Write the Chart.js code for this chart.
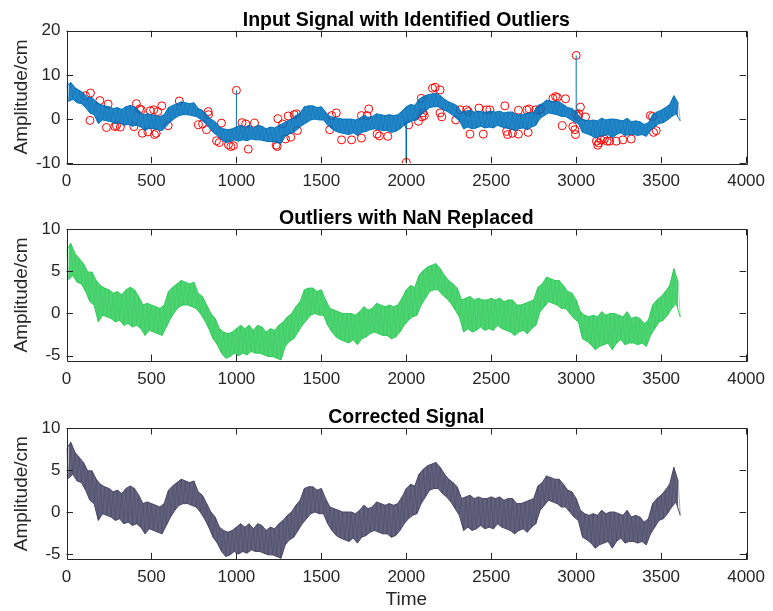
<!DOCTYPE html>
<html>
<head>
<meta charset="utf-8">
<title>Outlier removal</title>
<script src="https://cdn.jsdelivr.net/npm/chart.js@4.4.1/dist/chart.umd.min.js"></script>
<style>
  body { margin: 0; background: #fff; }
  #figure { position: relative; width: 773px; height: 611px; background: #fff; }
  #figure canvas { position: absolute; left: 0; }
</style>
</head>
<body>
<div id="figure">
  <canvas id="inputChart" width="773" height="200" style="top:0px"></canvas>
  <canvas id="nanChart" width="773" height="197" style="top:200px"></canvas>
  <canvas id="correctedChart" width="773" height="214" style="top:397px"></canvas>
</div>
<script>
// Signal envelope every 25 samples: peak (high) and trough (low) of the noisy trace
const sampleStep = 25;
const signalHigh = [
  7.5, 8.3, 7.1, 6.5, 5.9, 4.9, 4.9, 3.9,
  3.3, 3.0, 2.8, 2.4, 2.6, 2.2, 2.8, 3.1,
  2.8, 2.0, 1.0, 1.2, 1.0, 0.8, 0.6, 1.0,
  2.6, 3.1, 3.5, 3.9, 3.7, 3.5, 3.7, 2.4,
  2.0, 1.0, 0.0, -0.6, -1.8, -2.2, -2.4, -2.2,
  -1.8, -1.4, -1.8, -1.4, -2.0, -1.4, -1.6, -2.2,
  -1.8, -2.0, -1.4, -1.0, -0.4, 0.0, 0.8, 1.4,
  2.8, 3.0, 3.0, 2.6, 2.8, 1.6, 0.6, 0.4,
  0.2, 0.0, 0.0, 0.0, -0.2, 0.2, 0.8, 0.4,
  0.6, 1.2, 1.0, 0.8, 1.0, 0.8, 1.0, 1.8,
  2.8, 3.3, 3.1, 4.5, 5.1, 5.5, 5.7, 5.9,
  5.3, 4.5, 3.9, 3.5, 3.0, 1.6, 1.8, 2.0,
  1.6, 1.8, 1.6, 1.6, 1.8, 1.6, 1.8, 1.4,
  1.6, 1.6, 1.0, 1.0, 1.2, 1.4, 1.6, 3.1,
  3.5, 4.3, 4.1, 3.9, 3.9, 3.3, 2.6, 2.4,
  1.6, 0.2, -0.2, -0.4, -0.2, -0.4, 0.2, -0.2,
  0.0, 0.0, -0.2, -0.4, 0.2, -0.6, -0.4, -0.6,
  -1.2, -0.8, 1.0, 1.6, 2.0, 2.6, 3.3, 5.3,
  3.7
];
const signalLow = [
  4.0, 4.5, 3.7, 3.5, 2.6, 1.4, 1.0, -1.0,
  -0.2, -0.4, -0.6, -1.0, -0.8, -1.4, -1.2, -1.6,
  -1.4, -1.8, -2.6, -2.0, -2.2, -2.4, -2.6, -1.6,
  -0.6, 0.2, 0.8, 1.0, 1.0, 0.8, 0.6, 0.0,
  -0.8, -1.8, -3.0, -3.7, -4.7, -5.3, -5.1, -4.7,
  -5.0, -4.7, -4.9, -4.5, -4.7, -4.7, -4.9, -5.1,
  -5.1, -5.3, -5.5, -3.9, -3.3, -3.0, -2.2, -1.4,
  -0.8, -0.2, 0.0, -0.2, -0.2, -1.4, -2.2, -2.8,
  -3.1, -3.3, -3.5, -3.1, -3.7, -3.0, -2.8, -2.4,
  -2.2, -2.4, -2.6, -2.6, -3.0, -2.8, -2.2, -1.4,
  -0.8, -0.4, -0.2, 1.0, 1.8, 2.6, 2.8, 2.8,
  2.2, 1.8, 1.2, 0.4, -0.4, -2.2, -1.8, -2.2,
  -2.0, -1.6, -2.0, -1.8, -2.0, -1.4, -1.8, -2.0,
  -2.2, -2.6, -2.2, -2.0, -2.4, -1.8, -1.4, 0.2,
  0.8, 1.4, 1.2, 1.0, 0.6, 0.6, 0.0, -0.6,
  -1.0, -3.0, -3.3, -3.7, -4.3, -3.9, -3.7, -3.5,
  -4.3, -3.5, -3.1, -3.7, -3.5, -3.5, -3.7, -3.5,
  -3.9, -2.6, -1.8, -1.0, -0.8, -0.2, 0.6, 1.2,
  -0.4
];

// Large spikes present only in the raw input
const spikeTimes = [1000, 2000, 3000];
const spikeValues = [6.5, -9.8, 14.4];

// Samples flagged as outliers
const outlierTimes = [
  112, 141, 138, 196, 245, 235, 284, 294, 317, 397, 411, 430, 440, 446, 479, 493,
  513, 518, 528, 537, 561, 598, 664, 776, 801, 824, 834, 836, 883, 899, 912, 953,
  967, 982, 1000, 1033, 1055, 1070, 1107, 1234, 1240, 1244, 1273, 1289, 1305, 1320,
  1340, 1354, 1359, 1549, 1561, 1588, 1619, 1678, 1736, 1736, 1769, 1779, 1828, 1842,
  1891, 2000, 2014, 2072, 2092, 2088, 2098, 2106, 2154, 2170, 2199, 2199, 2209, 2291,
  2316, 2355, 2365, 2375, 2428, 2453, 2473, 2492, 2580, 2590, 2596, 2625, 2660, 2660,
  2709, 2723, 2717, 2762, 2782, 2791, 2863, 2879, 2889, 2918, 2937, 2980, 2992, 2996,
  3000, 3000, 3012, 3025, 3016, 3055, 3119, 3127, 3133, 3146, 3166, 3182, 3197, 3236,
  3275, 3324, 3436, 3449, 3455, 3471
];
const outlierValues = [
  5.3, 5.9, -0.3, 4.2, 3.4, -1.9, -1.7, -1.5, -1.8, -1.7, 3.5, 2.3, 2.1, -3.2, -2.9, 1.9,
  2.1, -3.5, -3.2, 1.7, 3.0, -1.5, 4.1, -1.3, -1.1, -2.4, 1.7, 1.0, -4.9, -5.3, -0.9, -5.8,
  -6.2, -6.0, 6.5, -0.8, -1.1, -6.8, -0.9, -5.9, -6.2, 0.1, -1.1, -4.5, 0.7, -4.1,
  1.0, 1.2, -2.6, -2.4, 0.8, 1.4, -4.7, -4.7, 0.8, -4.3, 0.8, 2.3, -3.4, -3.8,
  -3.9, -9.8, -1.3, -0.5, 0.5, 4.7, 1.4, 0.8, 7.0, 7.2, 6.6, 1.4, 0.5, -0.2,
  2.1, 2.1, 1.7, -3.4, 2.5, -3.4, 2.1, 2.1, 3.0, -2.8, -3.5, -3.2, 2.0, -3.4,
  2.1, 2.3, -3.0, 2.1, 2.0, 2.3, 4.7, 5.1, 4.9, -1.5, 4.6, -1.7, -2.4, -3.5,
  14.4, 1.0, 0.6, 2.7, 1.2, 0.5, -5.0, -5.9, -5.4, -4.7, -4.5, -5.0, -5.0, -5.0,
  -4.7, -4.5, 0.8, 0.6, -3.0, -2.6
];

// Axis ticks
const timeTicks = [0, 500, 1000, 1500, 2000, 2500, 3000, 3500, 4000];
const inputTicks = [-10, 0, 10, 20];
const cleanTicks = [-5, 0, 5, 10];

const FONT = '"Liberation Sans", Arial, Helvetica, sans-serif';
const AXIS_COLOR = '#262626';
const TICK_LEN = 6.5;

// Trace as alternating peak / trough points
function buildTrace() {
  const pts = [];
  signalHigh.forEach((hi, i) => {
    pts.push({ x: i * sampleStep, y: hi });
    pts.push({ x: i * sampleStep + sampleStep / 2, y: signalLow[i] });
  });
  return pts;
}

// Vertical strokes from the trace out to each spike value, split by gaps
function buildSpikes() {
  const pts = [];
  spikeTimes.forEach((t, i) => {
    const k = Math.round(t / sampleStep);
    const base = spikeValues[i] > 0 ? signalHigh[k] : signalLow[k];
    pts.push({ x: t, y: base }, { x: t, y: spikeValues[i] }, { x: t, y: null });
  });
  return pts;
}

const highEdge = signalHigh.map((v, i) => ({ x: i * sampleStep, y: v }));
const lowEdge = signalLow.map((v, i) => ({ x: i * sampleStep + sampleStep / 2, y: v }));

// Boxed axes with inward ticks on all four sides, plus the title centred on the axes
const boxAxes = {
  id: 'boxAxes',
  afterDatasetsDraw(chart, args, opts) {
    const { ctx, chartArea: a } = chart;
    const xs = chart.scales.x, ys = chart.scales.y;
    ctx.save();
    ctx.strokeStyle = AXIS_COLOR;
    ctx.lineWidth = 1;
    ctx.beginPath();
    xs.ticks.forEach(t => {
      const px = Math.round(xs.getPixelForValue(t.value)) + 0.5;
      ctx.moveTo(px, a.bottom); ctx.lineTo(px, a.bottom - TICK_LEN);
      ctx.moveTo(px, a.top); ctx.lineTo(px, a.top + TICK_LEN);
    });
    ys.ticks.forEach(t => {
      const py = Math.round(ys.getPixelForValue(t.value)) + 0.5;
      ctx.moveTo(a.left, py); ctx.lineTo(a.left + TICK_LEN, py);
      ctx.moveTo(a.right, py); ctx.lineTo(a.right - TICK_LEN, py);
    });
    ctx.rect(Math.round(a.left) + 0.5, Math.round(a.top) + 0.5,
             Math.round(a.right - a.left), Math.round(a.bottom - a.top));
    ctx.stroke();

    ctx.fillStyle = '#000';
    ctx.font = 'bold 19.5px ' + FONT;
    ctx.textAlign = 'center';
    ctx.textBaseline = 'alphabetic';
    ctx.fillText(opts.text, (a.left + a.right) / 2, a.top - 5);
    ctx.restore();
  }
};

function makeChart(id, cfg) {
  const tickFont = { family: FONT, size: 17 };
  const labelFont = { family: FONT, size: 19 };
  return new Chart(document.getElementById(id), {
    type: 'line',
    data: { datasets: cfg.datasets },
    options: {
      responsive: false,
      animation: false,
      events: [],
      spanGaps: false,
      layout: { padding: { left: 0, right: 23.5, top: cfg.top, bottom: 0 } },
      plugins: {
        legend: { display: false },
        tooltip: { enabled: false },
        boxAxes: { text: cfg.title }
      },
      scales: {
        x: {
          type: 'linear',
          min: 0,
          max: 4000,
          grid: { display: false, drawTicks: false },
          border: { display: false },
          afterBuildTicks(s) { s.ticks = timeTicks.map(v => ({ value: v })); },
          ticks: { font: tickFont, color: AXIS_COLOR, padding: 8, maxRotation: 0, autoSkip: false,
                   callback: v => String(v) },
          title: { display: !!cfg.xTitle, text: cfg.xTitle || '', font: labelFont, color: AXIS_COLOR, padding: 0 },
          afterFit(s) { s.height = cfg.xHeight; }
        },
        y: {
          min: cfg.yMin,
          max: cfg.yMax,
          grid: { display: false, drawTicks: false },
          border: { display: false },
          afterBuildTicks(s) { s.ticks = cfg.yTicks.map(v => ({ value: v })); },
          ticks: { font: tickFont, color: AXIS_COLOR, padding: 6, autoSkip: false, callback: v => String(v) },
          title: { display: true, text: 'Amplitude/cm', font: labelFont, color: AXIS_COLOR, padding: { top: 10.5, bottom: 0 } },
          afterFit(s) { s.width = 66.5; }
        }
      }
    },
    plugins: [boxAxes]
  });
}

// Filled envelope (peaks to troughs) with a faint zigzag of the samples on top
function signalDatasets(color, fillColor, zigColor) {
  return [
    { data: highEdge, borderColor: color, borderWidth: 1, pointRadius: 0, tension: 0,
      fill: '+1', backgroundColor: fillColor },
    { data: lowEdge, borderColor: color, borderWidth: 1, pointRadius: 0, tension: 0, fill: false },
    { data: buildTrace(), borderColor: zigColor, borderWidth: 0.7, pointRadius: 0, tension: 0, fill: false }
  ];
}

const outlierPoints = outlierTimes.map((t, i) => ({ x: t, y: outlierValues[i] }));

makeChart('inputChart', {
  title: 'Input Signal with Identified Outliers',
  top: 30.7, xHeight: 36.7,
  yMin: -10, yMax: 20, yTicks: inputTicks,
  datasets: [
    ...signalDatasets('#0072BD', 'rgba(0,114,189,0.85)', 'rgba(0,90,160,0.6)'),
    { data: buildSpikes(), borderColor: '#0072BD', borderWidth: 1, pointRadius: 0, fill: false },
    {
      data: outlierPoints,
      showLine: false,
      pointStyle: 'circle',
      pointRadius: 4,
      borderColor: '#FF0000',
      backgroundColor: 'rgba(0,0,0,0)',
      borderWidth: 1
    }
  ]
});

makeChart('nanChart', {
  title: 'Outliers with NaN Replaced',
  top: 29, xHeight: 36,
  yMin: -5.63, yMax: 10, yTicks: cleanTicks,
  datasets: signalDatasets('#30CC5A', 'rgba(48,204,90,0.85)', 'rgba(40,170,75,0.6)')
});

makeChart('correctedChart', {
  title: 'Corrected Signal',
  top: 31, xHeight: 51.7, xTitle: 'Time',
  yMin: -5.63, yMax: 10, yTicks: cleanTicks,
  datasets: signalDatasets('#474766', 'rgba(71,71,102,0.85)', 'rgba(50,50,80,0.6)')
});
</script>
</body>
</html>
